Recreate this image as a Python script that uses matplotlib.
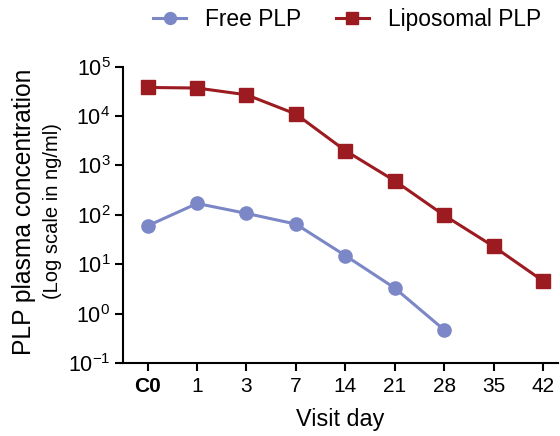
import matplotlib
matplotlib.use("Agg")
import matplotlib.pyplot as plt
from matplotlib.ticker import NullLocator

plt.rcParams['font.family'] = ['Liberation Sans', 'DejaVu Sans']
plt.rcParams['mathtext.default'] = 'regular'
plt.rcParams['axes.unicode_minus'] = False

days = ["C0", "1", "3", "7", "14", "21", "28", "35", "42"]
free_plp = [60, 170, 107, 65, 15, 3.3, 0.47]
liposomal_plp = [3.8e4, 3.7e4, 2.7e4, 1.1e4, 2.0e3, 490, 98, 23, 4.6]
y_exponents = [-1, 0, 1, 2, 3, 4, 5]

free_color = "#7b87c6"
lipo_color = "#9b1b20"

fig = plt.figure(figsize=(5.6, 4.36), dpi=100)
ax = fig.add_axes([0.2196, 0.1674, 0.7764, 0.6796])

xf = list(range(len(free_plp)))
xl = list(range(len(liposomal_plp)))
ax.plot(xf, free_plp, color=free_color, lw=2.2, marker='o', ms=9.5,
        label="Free PLP", clip_on=False, zorder=3)
ax.plot(xl, liposomal_plp, color=lipo_color, lw=2.2, marker='s', ms=9.5,
        label="Liposomal PLP", clip_on=False, zorder=3)

ax.set_yscale('log')
ax.set_ylim(1e-1, 1e5)
ax.set_xlim(-0.5, 8.3)
ax.set_yticks([10.0 ** e for e in y_exponents])
ax.set_yticklabels([r'$10^{%d}$' % e for e in y_exponents])
ax.yaxis.set_minor_locator(NullLocator())
ax.set_xticks(range(len(days)))
ax.set_xticklabels(days)
ax.get_xticklabels()[0].set_fontweight('bold')

for s in ['top', 'right']:
    ax.spines[s].set_visible(False)
for s in ['left', 'bottom']:
    ax.spines[s].set_linewidth(1.5)
ax.tick_params(axis='both', which='major', direction='out', length=6, width=1.5,
               colors='black', pad=4)
ax.tick_params(axis='x', labelsize=15)
ax.tick_params(axis='y', labelsize=15.5, pad=3)

ax.set_xlabel("Visit day", fontsize=16.8, labelpad=9)

fig.text(0.042, 0.515, "PLP plasma concentration", rotation=90, fontsize=17.7,
         ha='center', va='center')
fig.text(0.093, 0.516, "(Log scale in ng/ml)", rotation=90, fontsize=14.5,
         ha='center', va='center')

leg = fig.legend(loc='center left', bbox_to_anchor=(0.237, 0.956), ncol=2,
                 frameon=False, fontsize=16.4, handlelength=1.45, columnspacing=1.5,
                 handletextpad=0.84, borderpad=0.4, markerscale=0.9)

fig.savefig("out.png", dpi=100)
